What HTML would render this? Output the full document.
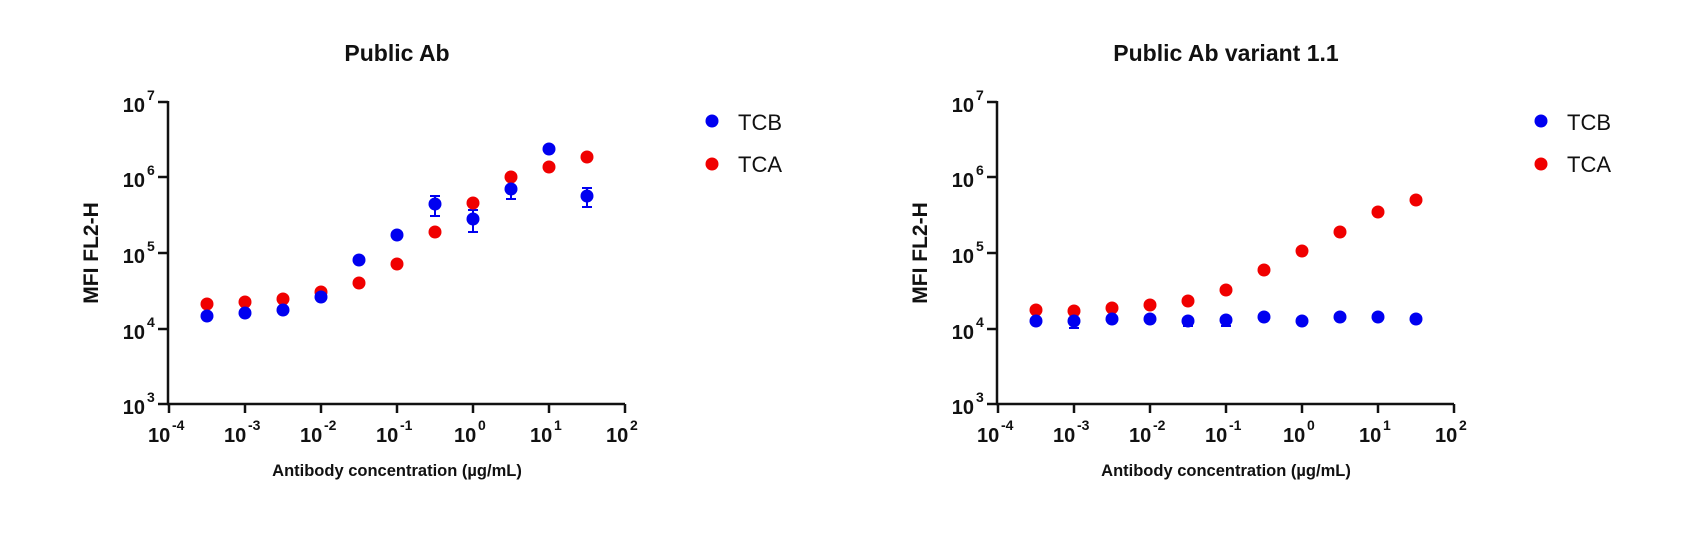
<!DOCTYPE html>
<html><head><meta charset="utf-8"><style>
html,body{margin:0;padding:0;background:#fff;}
svg{display:block;font-family:"Liberation Sans",Arial,sans-serif;}
.t{font-weight:bold;font-size:20px;fill:#111;}
.e{font-weight:bold;font-size:14px;fill:#111;}
</style></head><body>
<svg width="1700" height="540" viewBox="0 0 1700 540" xmlns="http://www.w3.org/2000/svg">
<defs>
<g id="axes">
  <line x1="168" y1="101" x2="168" y2="405" stroke="#111" stroke-width="2.5"/>
  <line x1="167" y1="404" x2="625" y2="404" stroke="#111" stroke-width="2.5"/>
  <g stroke="#111" stroke-width="2.5">
    <line x1="158" y1="102" x2="168" y2="102"/>
    <line x1="158" y1="177" x2="168" y2="177"/>
    <line x1="158" y1="253" x2="168" y2="253"/>
    <line x1="158" y1="329" x2="168" y2="329"/>
    <line x1="158" y1="404" x2="168" y2="404"/>
    <line x1="169" y1="404" x2="169" y2="413"/>
    <line x1="245" y1="404" x2="245" y2="413"/>
    <line x1="321" y1="404" x2="321" y2="413"/>
    <line x1="397" y1="404" x2="397" y2="413"/>
    <line x1="473" y1="404" x2="473" y2="413"/>
    <line x1="549" y1="404" x2="549" y2="413"/>
    <line x1="625" y1="404" x2="625" y2="413"/>
  </g>
  <g>
    <text x="145" y="112" class="t" text-anchor="end">10</text><text x="147" y="100" class="e">7</text>
    <text x="145" y="187" class="t" text-anchor="end">10</text><text x="147" y="175" class="e">6</text>
    <text x="145" y="263" class="t" text-anchor="end">10</text><text x="147" y="251" class="e">5</text>
    <text x="145" y="339" class="t" text-anchor="end">10</text><text x="147" y="327" class="e">4</text>
    <text x="145" y="414" class="t" text-anchor="end">10</text><text x="147" y="402" class="e">3</text>
  </g>
  <g>
    <text x="148" y="442" class="t">10</text><text x="172" y="430" class="e">-4</text>
    <text x="224" y="442" class="t">10</text><text x="248" y="430" class="e">-3</text>
    <text x="300" y="442" class="t">10</text><text x="324" y="430" class="e">-2</text>
    <text x="376" y="442" class="t">10</text><text x="400" y="430" class="e">-1</text>
    <text x="454" y="442" class="t">10</text><text x="478" y="430" class="e">0</text>
    <text x="530" y="442" class="t">10</text><text x="554" y="430" class="e">1</text>
    <text x="606" y="442" class="t">10</text><text x="630" y="430" class="e">2</text>
  </g>
  <text x="397" y="476" text-anchor="middle" font-weight="bold" font-size="16.5" fill="#111">Antibody concentration (µg/mL)</text>
  <text transform="translate(98,253) rotate(-90)" text-anchor="middle" font-weight="bold" font-size="21" fill="#111">MFI FL2-H</text>
  <circle cx="712" cy="121" r="6.5" fill="#0000f0"/>
  <circle cx="712" cy="164" r="6.5" fill="#f00000"/>
  <text x="738" y="130" font-size="22" fill="#111">TCB</text>
  <text x="738" y="172" font-size="22" fill="#111">TCA</text>
</g>
</defs>

<use href="#axes"/>
<text x="397" y="61" text-anchor="middle" font-weight="bold" font-size="23" fill="#111">Public Ab</text>
<g stroke="#0000f0" stroke-width="2" fill="none">
  <line x1="435" y1="196" x2="435" y2="216"/><line x1="430" y1="196" x2="440" y2="196"/><line x1="430" y1="216" x2="440" y2="216"/>
  <line x1="473" y1="210" x2="473" y2="232"/><line x1="468" y1="210" x2="478" y2="210"/><line x1="468" y1="232" x2="478" y2="232"/>
  <line x1="511" y1="180" x2="511" y2="199"/><line x1="506" y1="180" x2="516" y2="180"/><line x1="506" y1="199" x2="516" y2="199"/>
  <line x1="587" y1="188" x2="587" y2="207"/><line x1="582" y1="188" x2="592" y2="188"/><line x1="582" y1="207" x2="592" y2="207"/>
</g>
<g fill="#f00000">
  <circle cx="207" cy="304" r="6.5"/><circle cx="245" cy="302" r="6.5"/><circle cx="283" cy="299" r="6.5"/>
  <circle cx="321" cy="292" r="6.5"/><circle cx="359" cy="283" r="6.5"/><circle cx="397" cy="264" r="6.5"/>
  <circle cx="435" cy="232" r="6.5"/><circle cx="473" cy="203" r="6.5"/><circle cx="511" cy="177" r="6.5"/>
  <circle cx="549" cy="167" r="6.5"/><circle cx="587" cy="157" r="6.5"/>
</g>
<g fill="#0000f0">
  <circle cx="207" cy="316" r="6.5"/><circle cx="245" cy="313" r="6.5"/><circle cx="283" cy="310" r="6.5"/>
  <circle cx="321" cy="297" r="6.5"/><circle cx="359" cy="260" r="6.5"/><circle cx="397" cy="235" r="6.5"/>
  <circle cx="435" cy="204" r="6.5"/><circle cx="473" cy="219" r="6.5"/><circle cx="511" cy="189" r="6.5"/>
  <circle cx="549" cy="149" r="6.5"/><circle cx="587" cy="196" r="6.5"/>
</g>

<g transform="translate(829,0)">
<use href="#axes"/>
<text x="397" y="61" text-anchor="middle" font-weight="bold" font-size="23" fill="#111">Public Ab variant 1.1</text>
<g stroke="#0000f0" stroke-width="2">
  <line x1="245" y1="321" x2="245" y2="328"/><line x1="240" y1="328" x2="250" y2="328"/>
  <line x1="359" y1="321" x2="359" y2="326"/><line x1="354" y1="326" x2="364" y2="326"/>
  <line x1="397" y1="320" x2="397" y2="326"/><line x1="392" y1="326" x2="402" y2="326"/>
</g>
<g fill="#f00000">
  <circle cx="207" cy="310" r="6.5"/><circle cx="245" cy="311" r="6.5"/><circle cx="283" cy="308" r="6.5"/>
  <circle cx="321" cy="305" r="6.5"/><circle cx="359" cy="301" r="6.5"/><circle cx="397" cy="290" r="6.5"/>
  <circle cx="435" cy="270" r="6.5"/><circle cx="473" cy="251" r="6.5"/><circle cx="511" cy="232" r="6.5"/>
  <circle cx="549" cy="212" r="6.5"/><circle cx="587" cy="200" r="6.5"/>
</g>
<g fill="#0000f0">
  <circle cx="207" cy="321" r="6.5"/><circle cx="245" cy="321" r="6.5"/><circle cx="283" cy="319" r="6.5"/>
  <circle cx="321" cy="319" r="6.5"/><circle cx="359" cy="321" r="6.5"/><circle cx="397" cy="320" r="6.5"/>
  <circle cx="435" cy="317" r="6.5"/><circle cx="473" cy="321" r="6.5"/><circle cx="511" cy="317" r="6.5"/>
  <circle cx="549" cy="317" r="6.5"/><circle cx="587" cy="319" r="6.5"/>
</g>
</g>
</svg>
</body></html>
